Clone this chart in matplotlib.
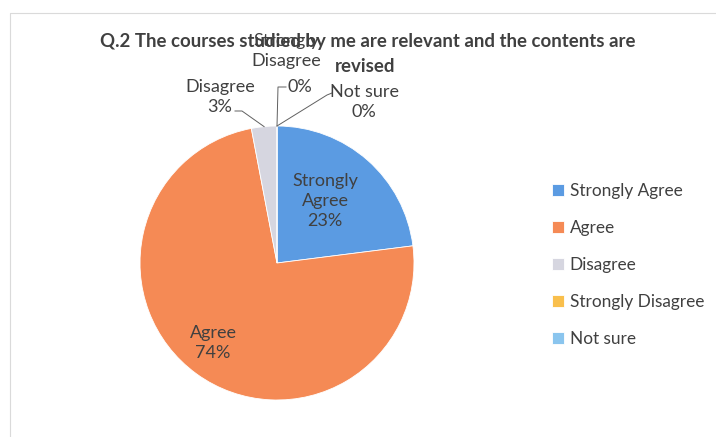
import matplotlib
matplotlib.use('Agg')
import matplotlib.pyplot as plt
import numpy as np

# data
categories = ['Strongly Agree', 'Agree', 'Disagree', 'Strongly Disagree', 'Not sure']
percents = [23, 74, 3, 0, 0]
colors = ['#5B9BE2', '#F58A55', '#D6D6E0', '#F9BF4C', '#8AC5EE']
title_lines = ['Q.2 The courses studied by me are relevant and the contents are', 'revised']

plt.rcParams['font.family'] = ['Lato', 'DejaVu Sans']

W, H = 716, 437
fig = plt.figure(figsize=(W / 100, H / 100), dpi=100)
ax = fig.add_axes([0, 0, 1, 1])

cx, cy, r = 277, H - 263, 137
wedges, _ = ax.pie(percents, colors=colors, startangle=90, counterclock=False,
                   center=(cx, cy), radius=r, frame=True,
                   wedgeprops=dict(edgecolor='white', linewidth=0.6))
ax.set_xlim(0, W)
ax.set_ylim(0, H)
ax.set_aspect('equal')
ax.axis('off')

# faint chart-area border (left and top)
ax.plot([10, 10, W], [0, H - 13, H - 13], color='#DADADA', lw=0.8)

txt = '#404040'
fs = 13
ls = 1.3

def edge_point(w, frac=1.0):
    a = np.deg2rad((w.theta1 + w.theta2) / 2)
    return cx + frac * r * np.cos(a), cy + frac * r * np.sin(a)

def leader(pts):
    xs, ys = zip(*pts)
    ax.plot(xs, ys, color='#606060', lw=0.7)

# labels inside the slices
ax.text(325, H - 201, 'Strongly\nAgree\n23%', ha='center', va='center',
        fontsize=fs, color=txt, linespacing=ls)
ax.text(213, H - 343, 'Agree\n74%', ha='center', va='center',
        fontsize=fs, color=txt, linespacing=ls)

# labels outside with leader lines
ax.text(220, H - 97, 'Disagree\n3%', ha='center', va='center',
        fontsize=fs, color=txt, linespacing=ls)
leader([(235, H - 111), (242, H - 111), edge_point(wedges[2])])

ax.text(286, H - 51, 'Strongly\nDisagree', ha='center', va='center',
        fontsize=fs, color=txt, linespacing=ls)
ax.text(287, H - 87, '0%', ha='left', va='center', fontsize=fs, color=txt)
leader([(286, H - 87), (278, H - 87), edge_point(wedges[3])])

ax.text(364, H - 102, 'Not sure\n0%', ha='center', va='center',
        fontsize=fs, color=txt, linespacing=ls)
leader([(332, H - 93), (327, H - 95), edge_point(wedges[4])])

# title
ax.text(368, H - 41, title_lines[0], ha='center', va='center',
        fontsize=13.4, fontweight='bold', color=txt)
ax.text(365, H - 67, title_lines[1], ha='center', va='center',
        fontsize=13.4, fontweight='bold', color=txt)

# legend
fig.legend(wedges, categories, loc='center left', bbox_to_anchor=(536 / W, 1 - 265 / H),
           frameon=False, fontsize=12.4, labelcolor=txt, handlelength=0.7, handleheight=0.7,
           handletextpad=0.35, labelspacing=1.22)

plt.savefig('out.png', dpi=100)
